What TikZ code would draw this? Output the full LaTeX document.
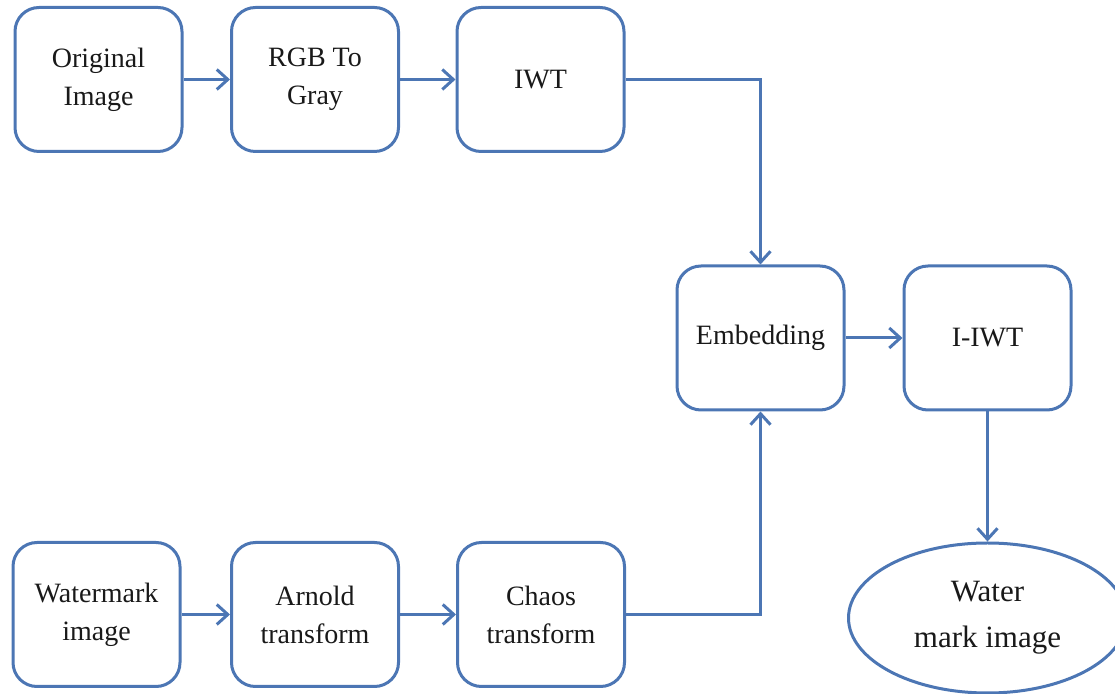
\documentclass[tikz,border=0pt]{standalone}
\usepackage{fontspec}
\setmainfont{Liberation Serif}
\usetikzlibrary{arrows.meta,shapes.geometric}
\definecolor{edgeblue}{RGB}{76,118,180}
\definecolor{txt}{RGB}{25,25,25}
\tikzset{
  proc/.style={draw=edgeblue, line width=1.5pt, fill=white, rounded corners=12pt,
    minimum width=83.5pt, minimum height=72pt, inner sep=0pt, align=center,
    text=txt, font=\fontsize{14}{19}\selectfont},
  outell/.style={draw=edgeblue, line width=1.5pt, fill=white, ellipse,
    minimum width=139pt, minimum height=75pt, inner sep=0pt, align=center,
    text=txt, font=\fontsize{15.5}{23}\selectfont},
  conn/.style={draw=edgeblue, line width=1.5pt,
    -{Straight Barb[length=5.5pt,width=10pt,line width=1.5pt]}},
}
\begin{document}
\begin{tikzpicture}[x=0.5pt,y=-0.5pt]
\useasboundingbox (0,0) rectangle (1115,694);
\node[proc] (orig) at (98.5,79.5) {Original\\Image};
\node[proc] (rgb) at (315,79.5) {RGB To\\Gray};
\node[proc] (iwt) at (540.5,79.5) {IWT};
\node[proc] (emb) at (760.5,338) {Embedding};
\node[proc] (iiwt) at (987.5,338) {I-IWT};
\node[proc] (wm) at (96.5,614.5) {Watermark\\image};
\node[proc] (arn) at (315,614.5) {Arnold\\transform};
\node[proc] (chaos) at (541,614.5) {Chaos\\transform};
\node[outell] (out) at (987.5,618) {Water\\mark image};
\draw[conn] (orig) -- (rgb);
\draw[conn] (rgb) -- (iwt);
\draw[conn] (iwt.east) -| (emb.north);
\draw[conn] (emb) -- (iiwt);
\draw[conn] (wm) -- (arn);
\draw[conn] (arn) -- (chaos);
\draw[conn] (chaos.east) -| (emb.south);
\draw[conn] (iiwt.south) -- (out.north);
\end{tikzpicture}
\end{document}
